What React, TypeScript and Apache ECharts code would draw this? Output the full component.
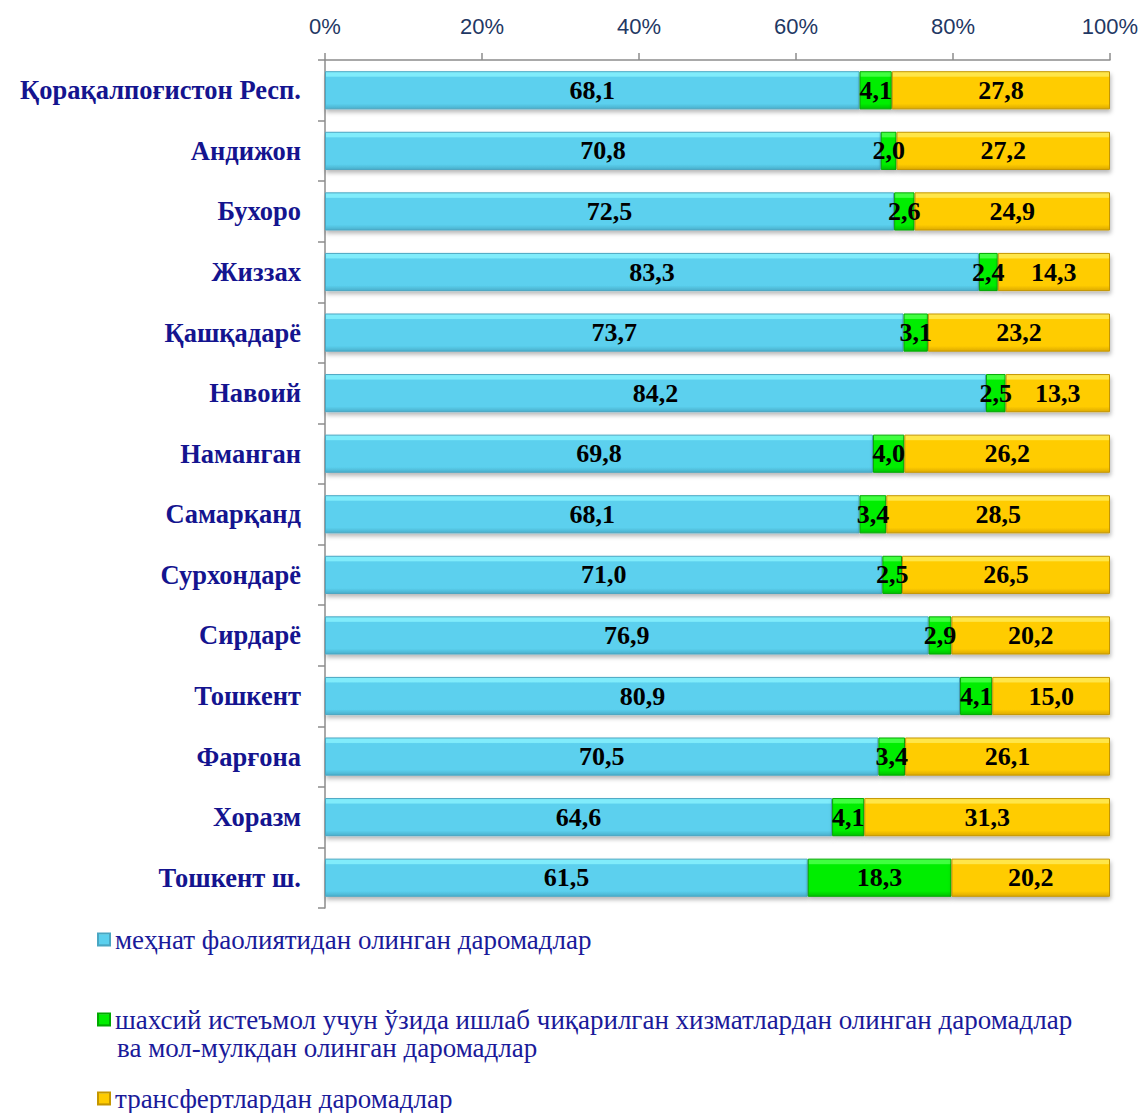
import React, { useEffect, useRef } from "react";
import * as echarts from "echarts";

const categories = [
  "Қорақалпоғистон Респ.",
  "Андижон",
  "Бухоро",
  "Жиззах",
  "Қашқадарё",
  "Навоий",
  "Наманган",
  "Самарқанд",
  "Сурхондарё",
  "Сирдарё",
  "Тошкент",
  "Фарғона",
  "Хоразм",
  "Тошкент ш.",
];

const laborIncome = [68.1, 70.8, 72.5, 83.3, 73.7, 84.2, 69.8, 68.1, 71.0, 76.9, 80.9, 70.5, 64.6, 61.5];
const ownProduction = [4.1, 2.0, 2.6, 2.4, 3.1, 2.5, 4.0, 3.4, 2.5, 2.9, 4.1, 3.4, 4.1, 18.3];
const transfers = [27.8, 27.2, 24.9, 14.3, 23.2, 13.3, 26.2, 28.5, 26.5, 20.2, 15.0, 26.1, 31.3, 20.2];

const seriesNames = [
  "меҳнат фаолиятидан олинган даромадлар",
  "шахсий истеъмол учун ўзида ишлаб чиқарилган хизматлардан олинган даромадлар",
  "трансфертлардан даромадлар",
];
const seriesNameLine2 = "ва мол-мулкдан олинган даромадлар";

const xTicks = [0, 20, 40, 60, 80, 100];

const grad = (top: string, mid: string, bottom: string) =>
  new echarts.graphic.LinearGradient(0, 0, 0, 1, [
    { offset: 0, color: top },
    { offset: 0.12, color: top },
    { offset: 0.15, color: mid },
    { offset: 0.86, color: mid },
    { offset: 1, color: bottom },
  ]);

const palettes = [
  { fill: grad("#80ECFB", "#5BD0EE", "#4AAFCB"), border: "#4AA6C2" },
  { fill: grad("#40FF40", "#00EE00", "#00C000"), border: "#00A800" },
  { fill: grad("#FFE64A", "#FFCC00", "#DDAA00"), border: "#C49600" },
];

const fmt = (v: number) => v.toFixed(1).replace(".", ",");

export default function App() {
  const ref = useRef<HTMLDivElement>(null);
  useEffect(() => {
    if (!ref.current) return;
    const chart = echarts.init(ref.current, undefined, { renderer: "svg" });
    const datasets = [laborIncome, ownProduction, transfers];
    const legendTops = [926, 1006, 1085];
    chart.setOption({
      animation: false,
      backgroundColor: "#ffffff",
      grid: { left: 325, right: 33, top: 60, bottom: 205, containLabel: false },
      xAxis: {
        type: "value",
        position: "top",
        min: 0,
        max: 100,
        interval: 20,
        axisLine: { show: true, lineStyle: { color: "#8C8C8C", width: 1.5 } },
        axisTick: { show: true, length: 7, lineStyle: { color: "#8C8C8C", width: 1.5 } },
        splitLine: { show: false },
        axisLabel: {
          margin: 23,
          formatter: (v: number) => (xTicks.includes(v) ? v + "%" : ""),
          color: "#1F3864",
          fontFamily: "Liberation Sans",
          fontSize: 22,
        },
      },
      yAxis: {
        type: "category",
        inverse: true,
        data: categories,
        axisLine: { show: true, lineStyle: { color: "#8C8C8C", width: 1.5 } },
        axisTick: { show: true, length: 7, lineStyle: { color: "#8C8C8C", width: 1.5 } },
        axisLabel: {
          margin: 24,
          color: "#14148F",
          fontFamily: "Liberation Serif",
          fontWeight: "bold",
          fontSize: 26.5,
        },
      },
      legend: seriesNames.map((n, i) => ({
        data: [{ name: n, icon: "rect" }],
        orient: "vertical",
        left: 97,
        top: legendTops[i],
        padding: 0,
        itemWidth: 12,
        itemHeight: 12,
        itemGap: 0,
        selectedMode: false,
        textStyle: {
          color: "#1A1A9A",
          fontFamily: "Liberation Serif",
          fontSize: 27,
          lineHeight: 24,
        },
      })),
      graphic: [
        {
          type: "text",
          left: 117,
          top: 1034,
          style: {
            text: seriesNameLine2,
            fill: "#1A1A9A",
            font: "27px 'Liberation Serif'",
          },
        },
      ],
      series: datasets.map((d, i) => ({
        name: seriesNames[i],
        type: "bar",
        stack: "total",
        barWidth: "63%",
        data: d,
        itemStyle: {
          color: palettes[i].fill,
          borderColor: palettes[i].border,
          borderWidth: 1,
          shadowColor: "rgba(0,0,0,0.28)",
          shadowBlur: 4,
          shadowOffsetY: 3,
          shadowOffsetX: 1,
        },
        label: {
          show: true,
          position: "inside",
          formatter: (p: any) => fmt(p.value),
          color: "#000000",
          fontFamily: "Liberation Serif",
          fontWeight: "bold",
          fontSize: 26,
        },
      })),
    });
    return () => chart.dispose();
  }, []);
  return (
    <div
      ref={ref}
      style={{ position: "fixed", left: 0, top: 0, width: 1143, height: 1113 }}
    />
  );
}
